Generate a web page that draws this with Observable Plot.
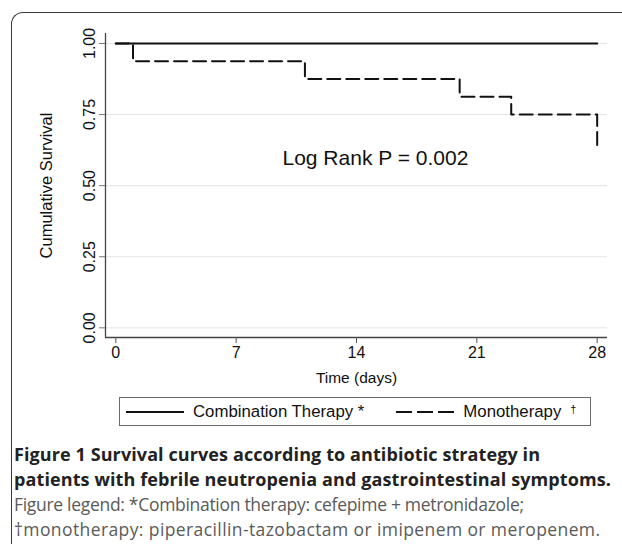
<!DOCTYPE html>
<html>
<head>
<meta charset="utf-8">
<script src="https://cdn.jsdelivr.net/npm/d3@7"></script>
<script src="https://cdn.jsdelivr.net/npm/@observablehq/plot@0.6"></script>
<style>
  html, body { margin: 0; padding: 0; background: #fff; }
  #wrap { position: relative; width: 622px; height: 551px; overflow: hidden; font-family: "Liberation Sans", Arial, sans-serif; }
  #frame { position: absolute; left: 11px; top: 12px; width: 720px; height: 531px;
           border-top: 1.6px solid #3a3a3a; border-left: 1.6px solid #3a3a3a; border-top-left-radius: 12px; }
  #chart { position: absolute; left: 0; top: 0; }
  #legend { position: absolute; left: 119px; top: 397px; width: 472px; height: 29px;
            border: 1.3px solid #6a6a6a; display: flex; align-items: center; font-size: 16.8px; color: #111; box-sizing: border-box; }
  #legend .item { display: flex; align-items: center; }
  #legend svg { display: block; }
  #legend sup { font-size: 11px; margin-left: 9px; position: relative; top: -3px; }
  #caption { position: absolute; left: 14px; top: 442px; width: 610px; font-family: "Open Sans", "Noto Sans", sans-serif; }
  #caption .b { font-weight: 700; font-size: 18px; color: #222; line-height: 25px; white-space: nowrap; }
  #caption .r { font-weight: 400; font-size: 17.5px; color: #5a5a5a; line-height: 25px; white-space: nowrap; }
</style>
</head>
<body>
<div id="wrap">
  <div id="frame"></div>
  <div id="chart"></div>
  <div id="legend"></div>
  <div id="caption"></div>
</div>
<script>
// ---- data ----
const monoDays   = [0, 1, 11, 20, 23, 28];
const monoSurv   = [1, 0.9375, 0.875, 0.8125, 0.75, 0.625];
const comboDays  = [0, 28];
const comboSurv  = [1, 1];
const xTicks     = [0, 7, 14, 21, 28];
const yTicks     = [0, 0.25, 0.5, 0.75, 1];
const xDomain    = [-0.6, 28.6];
const yDomain    = [-0.034, 1.035];
const xLabel     = "Time (days)";
const yLabel     = "Cumulative Survival";
const noteText   = ["Log Rank P = 0.002"];
const noteDay    = [15.1];
const noteSurv   = [0.595];
const seriesNames = ["Combination Therapy", "Monotherapy"];
const seriesMarks = ["*", "†"];
const seriesDash  = ["none", "16,5"];
const captionBold = ["Figure 1 Survival curves according to antibiotic strategy in",
                     "patients with febrile neutropenia and gastrointestinal symptoms."];
const captionText = ["Figure legend: *Combination therapy: cefepime + metronidazole;",
                     "†monotherapy: piperacillin-tazobactam or imipenem or meropenem."];

// ---- tables built from the arrays ----
const mono  = monoDays.map((d, i) => ({day: d, surv: monoSurv[i]}));
const combo = comboDays.map((d, i) => ({day: d, surv: comboSurv[i]}));
const notes = noteText.map((t, i) => ({label: t, day: noteDay[i], surv: noteSurv[i]}));

const plot = Plot.plot({
  width: 622,
  height: 390,
  marginTop: 33,
  marginBottom: 53,
  marginLeft: 105,
  marginRight: 15,
  style: {fontFamily: "'Liberation Sans', Arial, sans-serif", background: "transparent", color: "#111"},
  x: {domain: xDomain},
  y: {domain: yDomain},
  marks: [
    Plot.gridY(yTicks, {stroke: "#e4e4e4", strokeOpacity: 1, strokeWidth: 1}),
    Plot.ruleX([xDomain[0]], {stroke: "#444", strokeWidth: 1.3}),
    Plot.ruleY([yDomain[0]], {stroke: "#444", strokeWidth: 1.3}),
    Plot.axisX(xTicks, {tickSize: 6, tickPadding: 3, fontSize: 16, label: null, stroke: "#555", tickFormat: d3.format("d")}),
    Plot.axisY(yTicks, {tickSize: 6, tickPadding: 5, tickRotate: -90, fontSize: 16, label: null, stroke: "#777", tickFormat: d3.format(".2f")}),
    Plot.text([xLabel], {frameAnchor: "bottom", dy: 41, fontSize: 15.5, lineAnchor: "middle"}),
    Plot.text([yLabel], {frameAnchor: "left", dx: -59, rotate: -90, fontSize: 16.5, lineAnchor: "middle", textAnchor: "middle"}),
    Plot.line(mono, {x: "day", y: "surv", curve: "step-after", stroke: "#111", strokeWidth: 2, strokeDasharray: "13,6"}),
    Plot.line(combo, {x: "day", y: "surv", stroke: "#111", strokeWidth: 2}),
    Plot.text(notes, {x: "day", y: "surv", text: "label", fontSize: 21, textAnchor: "middle", lineAnchor: "middle"})
  ]
});
document.getElementById("chart").appendChild(plot);

// ---- legend ----
const legend = d3.select("#legend");
const gaps = [6, 32];
seriesNames.forEach((name, i) => {
  const item = legend.append("div").attr("class", "item").style("margin-left", gaps[i] + "px");
  const svg = item.append("svg").attr("width", 58).attr("height", 6);
  svg.append("line").attr("x1", 0).attr("x2", 58).attr("y1", 3).attr("y2", 3)
     .attr("stroke", "#111").attr("stroke-width", 2).attr("stroke-dasharray", seriesDash[i]);
  const label = item.append("span").style("margin-left", "9px").text(name);
  if (seriesMarks[i] === "*") label.text(name + " " + seriesMarks[i]);
  else item.append("sup").text(seriesMarks[i]);
});

// ---- caption (each line nudged toward the width it takes in the reference) ----
const cap = d3.select("#caption");
const capWidths = [526, 597, 504, 597];
const capLines = captionBold.map(t => ["b", t]).concat(captionText.map(t => ["r", t]));
capLines.forEach(([cls, t], i) => {
  const span = cap.append("div").attr("class", cls).append("span").text(t);
  const w = span.node().getBoundingClientRect().width;
  let ls = (capWidths[i] - w) / Math.max(1, t.length - 1);
  ls = Math.max(-0.3, Math.min(0.4, ls));
  span.style("letter-spacing", ls.toFixed(3) + "px");
});
</script>
</body>
</html>
